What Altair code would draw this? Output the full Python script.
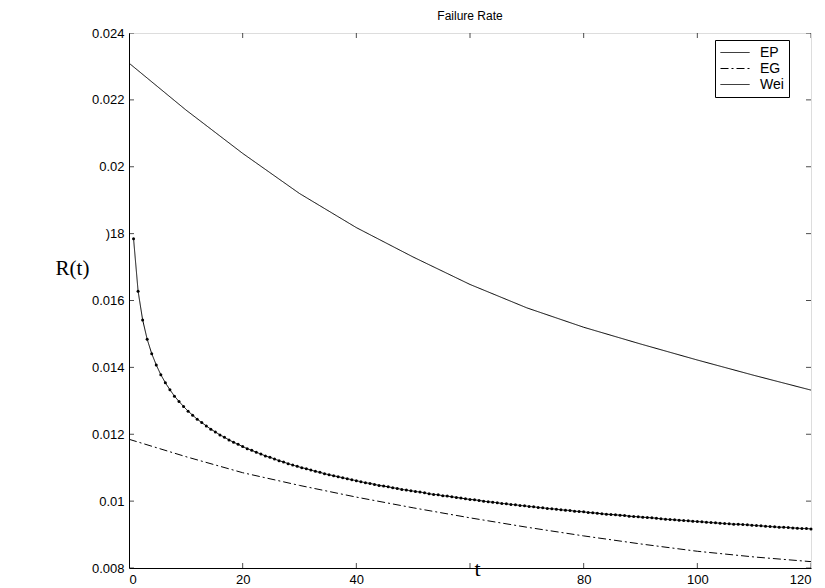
import altair as alt
import pandas as pd

# ---- data ----
ep_t = [0, 10, 20, 30, 40, 50, 60, 70, 80, 90, 100, 110, 120]
ep_r = [0.02310, 0.02170, 0.02040, 0.01920, 0.01818, 0.01730, 0.01648,
        0.01578, 0.01520, 0.01470, 0.01422, 0.01376, 0.01332]

eg_t = [0, 10, 20, 30, 40, 50, 60, 70, 80, 90, 100, 110, 120]
eg_r = [0.01185, 0.01133, 0.01085, 0.01047, 0.01012, 0.00980, 0.00950,
        0.00922, 0.00896, 0.00872, 0.00850, 0.00833, 0.00819]

wei_t = [round(0.8 * k, 1) for k in range(1, 151)]
wei_r = [
    0.01785, 0.01628, 0.01542, 0.01484, 0.01441, 0.01407, 0.01378, 0.01354, 0.01333, 0.01314,
    0.01298, 0.01283, 0.01269, 0.01257, 0.01245, 0.01235, 0.01225, 0.01215, 0.01207, 0.01198,
    0.01191, 0.01183, 0.01176, 0.01170, 0.01163, 0.01157, 0.01152, 0.01146, 0.01141, 0.01135,
    0.01131, 0.01126, 0.01121, 0.01117, 0.01112, 0.01108, 0.01104, 0.01100, 0.01097, 0.01093,
    0.01089, 0.01086, 0.01082, 0.01079, 0.01076, 0.01073, 0.01070, 0.01067, 0.01064, 0.01061,
    0.01058, 0.01055, 0.01053, 0.01050, 0.01047, 0.01045, 0.01043, 0.01040, 0.01038, 0.01035,
    0.01033, 0.01031, 0.01029, 0.01027, 0.01025, 0.01022, 0.01020, 0.01019, 0.01016, 0.01015,
    0.01013, 0.01011, 0.01009, 0.01007, 0.01005, 0.01004, 0.01002, 0.01000, 0.00998, 0.00997,
    0.00995, 0.00993, 0.00992, 0.00990, 0.00989, 0.00987, 0.00986, 0.00984, 0.00983, 0.00981,
    0.00980, 0.00978, 0.00977, 0.00976, 0.00974, 0.00973, 0.00972, 0.00970, 0.00969, 0.00968,
    0.00966, 0.00965, 0.00964, 0.00962, 0.00961, 0.00960, 0.00959, 0.00958, 0.00957, 0.00955,
    0.00954, 0.00953, 0.00952, 0.00951, 0.00950, 0.00949, 0.00947, 0.00946, 0.00945, 0.00944,
    0.00943, 0.00942, 0.00941, 0.00940, 0.00939, 0.00938, 0.00937, 0.00936, 0.00935, 0.00934,
    0.00933, 0.00932, 0.00931, 0.00931, 0.00930, 0.00929, 0.00928, 0.00927, 0.00926, 0.00925,
    0.00924, 0.00923, 0.00922, 0.00922, 0.00921, 0.00920, 0.00919, 0.00918, 0.00918, 0.00917,
]

series_names = ["EP", "EG", "Wei"]
x_ticks = [0, 20, 40, 60, 80, 100, 120]
y_ticks = [0.008, 0.010, 0.012, 0.014, 0.016, 0.018, 0.020, 0.022, 0.024]

# ---- tables ----
lines = pd.concat([
    pd.DataFrame({"t": ep_t, "r": ep_r, "series": "EP"}),
    pd.DataFrame({"t": eg_t, "r": eg_r, "series": "EG"}),
    pd.DataFrame({"t": wei_t, "r": wei_r, "series": "Wei"}),
], ignore_index=True)
wei = pd.DataFrame({"t": wei_t, "r": wei_r})
xt = pd.DataFrame({"v": x_ticks})
yt = pd.DataFrame({"v": y_ticks})

FONT = "Liberation Sans"
SERIF = "Liberation Serif"

xs = alt.Scale(domain=[0, 120], nice=False, zero=False)
ys = alt.Scale(domain=[0.008, 0.024], nice=False, zero=False)

x_axis = alt.Axis(
    values=x_ticks, ticks=False, grid=False, domainColor="black",
    labelExpr="datum.value == 60 ? '' : datum.label",
    labelFont=FONT, labelFontSize=13, labelColor="black", labelPadding=5,
    title="t", titleFont=SERIF, titleFontSize=22, titleFontWeight="normal",
    titleColor="black", titleX=348, titleY=7, titleBaseline="alphabetic",
    titleAlign="center",
)
y_axis = alt.Axis(
    values=y_ticks, ticks=False, grid=False, domainColor="black",
    labelExpr="abs(datum.value - 0.018) < 1e-9 ? ')18' : format(datum.value, '.3~f')",
    labelFont=FONT, labelFontSize=13, labelColor="black", labelPadding=5,
    title="R(t)", titleFont=SERIF, titleFontSize=21, titleFontWeight="normal",
    titleColor="black", titleAngle=0, titleX=-57, titleY=235,
    titleAlign="center", titleBaseline="middle",
)

line_layer = alt.Chart(lines).mark_line(strokeWidth=1, color="black").encode(
    x=alt.X("t:Q", scale=xs, axis=x_axis),
    y=alt.Y("r:Q", scale=ys, axis=y_axis),
    strokeDash=alt.StrokeDash(
        "series:N",
        scale=alt.Scale(domain=series_names, range=[[1, 0], [8, 3, 2, 3], [1, 0]]),
        legend=alt.Legend(
            title=None, orient="none", legendX=586, legendY=7,
            strokeColor="black", fillColor="white", padding=5,
            symbolType="stroke", symbolSize=841, symbolStrokeWidth=1,
            symbolStrokeColor="black", labelFont=FONT, labelFontSize=14,
            labelColor="black", labelOffset=10, rowPadding=1, clipHeight=15,
            labelExpr="datum.label + '\u00a0\u00a0\u00a0\u00a0'",
            cornerRadius=0,
        ),
    ),
    detail="series:N",
)

pts = alt.Chart(wei).mark_point(filled=True, color="black", size=9, opacity=1).encode(
    x=alt.X("t:Q", scale=xs),
    y=alt.Y("r:Q", scale=ys),
)

tick_style = dict(color="black", thickness=1, size=10, clip=True)
bottom_ticks = alt.Chart(xt).mark_tick(orient="vertical", **tick_style).encode(
    x=alt.X("v:Q", scale=xs), y=alt.Y(datum=0.008, scale=ys))
top_ticks = alt.Chart(xt).mark_tick(orient="vertical", **tick_style).encode(
    x=alt.X("v:Q", scale=xs), y=alt.Y(datum=0.024, scale=ys))
left_ticks = alt.Chart(yt).mark_tick(orient="horizontal", **tick_style).encode(
    y=alt.Y("v:Q", scale=ys), x=alt.X(datum=0, scale=xs))
right_ticks = alt.Chart(yt).mark_tick(orient="horizontal", **tick_style).encode(
    y=alt.Y("v:Q", scale=ys), x=alt.X(datum=120, scale=xs))

chart = alt.layer(
    bottom_ticks, top_ticks, left_ticks, right_ticks, line_layer, pts
).properties(
    width=682, height=535,
    title=alt.TitleParams("Failure Rate", font=FONT, fontSize=12,
                          fontWeight="normal", color="black", offset=1, dy=-3,
                          anchor="middle"),
    autosize=alt.AutoSizeParams(type="none"),
    padding={"left": 121, "top": 25, "right": 6, "bottom": 20},
).configure_view(stroke="black", strokeWidth=1).configure(background="white")

chart.save("out.html", embed_options={"renderer": "svg", "actions": False})
